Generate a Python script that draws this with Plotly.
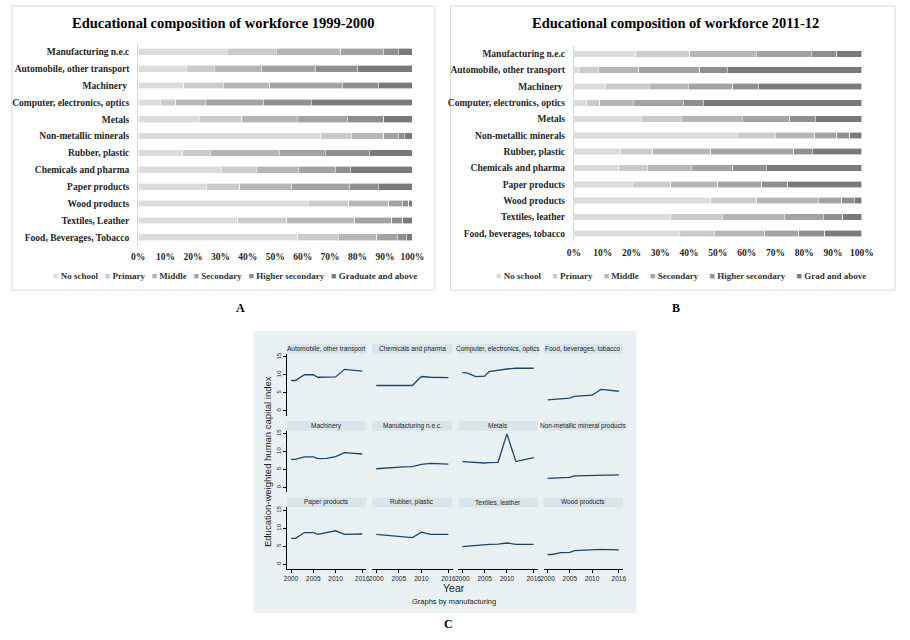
import plotly.graph_objects as go

W, H = 910, 640

# ---------------- Data: panels A and B ----------------
categories_a = ["Manufacturing n.e.c", "Automobile, other transport", "Machinery\u00a0",
                "Computer, electronics, optics", "Metals", "Non-metallic minerals",
                "Rubber, plastic", "Chemicals and pharma", "Paper products",
                "Wood products", "Textiles, Leather", "Food, Beverages, Tobacco"]
categories_b = ["Manufacturing n.e.c", "Automobile, other transport", "Machinery\u00a0",
                "Computer, electronics, optics", "Metals", "Non-metallic minerals",
                "Rubber, plastic", "Chemicals and pharma", "Paper products",
                "Wood products", "Textiles, leather", "Food, beverages, tobacco"]

levels_a = ["No school", "Primary", "Middle", "Secondary", "Higher secondary", "Graduate and above"]
levels_b = ["No school", "Primary", "Middle", "Secondary", "Higher secondary", "Grad and above"]

# shares (%) 1999-2000
a_noschool  = [32.4, 17.6, 16.6, 8.0, 22.3, 66.5, 16.3, 30.3, 24.9, 62.0, 36.4, 58.2]
a_primary   = [17.9, 10.1, 14.4, 5.7, 15.5, 11.3, 10.0, 12.8, 12.1, 14.8, 17.8, 14.7]
a_middle    = [23.5, 17.1, 17.0, 10.7, 20.2, 11.8, 25.1, 15.3, 18.9, 14.6, 24.7, 14.1]
a_secondary = [15.6, 19.7, 26.4, 21.2, 18.3, 5.2, 16.8, 13.4, 21.1, 5.0, 13.5, 7.4]
a_highersec = [5.4, 15.4, 13.1, 17.5, 13.3, 2.3, 16.1, 5.6, 10.5, 2.2, 4.1, 3.3]
a_graduate  = [5.2, 20.1, 12.5, 36.9, 10.4, 2.9, 15.7, 22.6, 12.5, 1.4, 3.5, 2.3]

# shares (%) 2011-12
b_noschool  = [21.5, 1.9, 10.8, 4.5, 23.4, 56.7, 16.2, 15.5, 20.3, 47.6, 33.4, 36.6]
b_primary   = [18.7, 6.5, 15.3, 4.5, 13.9, 13.3, 11.2, 9.9, 13.3, 15.9, 18.2, 12.2]
b_middle    = [23.2, 14.2, 13.6, 11.6, 21.1, 13.6, 20.1, 15.3, 16.3, 21.4, 21.4, 17.5]
b_secondary = [19.0, 21.1, 15.5, 17.3, 16.5, 7.7, 28.9, 14.5, 15.3, 8.1, 13.6, 11.8]
b_highersec = [8.9, 9.5, 8.9, 7.1, 8.9, 4.5, 6.4, 11.7, 9.1, 4.4, 6.8, 9.1]
b_graduate  = [8.7, 46.8, 35.9, 55.0, 16.2, 4.2, 17.2, 33.1, 25.7, 2.6, 6.6, 12.8]

pct_ticks = [0, 10, 20, 30, 40, 50, 60, 70, 80, 90, 100]
pct_labels = ["0%", "10%", "20%", "30%", "40%", "50%", "60%", "70%", "80%", "90%", "100%"]

# ---------------- Data: panel C ----------------
years = [2000, 2001, 2003, 2005, 2006, 2008, 2010, 2012, 2016]
industries_c = ["Automobile, other transport", "Chemicals and pharma", "Computer, electronics, optics",
                "Food, beverages, tobacco", "Machinery", "Manufacturing n.e.c.", "Metals",
                "Non-metallic mineral products", "Paper products", "Rubber, plastic",
                "Textiles, leather", "Wood products"]
hc_auto      = [8.4, 8.4, 10.0, 10.0, 9.3, 9.3, 9.4, 11.5, 11.0]
hc_chem      = [7.0, 7.0, 7.1, 7.2, 7.1, 7.0, 9.5, 9.3, 9.2]
hc_computer  = [10.6, 10.5, 9.5, 9.6, 10.9, 11.3, 11.6, 11.8, 11.8]
hc_food      = [3.0, 3.1, 3.4, 3.5, 4.0, 4.1, 4.3, 5.9, 5.4]
hc_machinery = [7.8, 7.8, 8.5, 8.5, 8.0, 8.1, 8.6, 9.7, 9.3]
hc_mfg_nec   = [5.2, 5.3, 5.6, 5.7, 5.7, 5.8, 6.4, 6.7, 6.5]
hc_metals    = [7.2, 7.1, 6.9, 6.8, 6.9, 7.0, 14.9, 7.2, 8.3]
hc_nonmetal  = [2.5, 2.6, 2.7, 2.8, 3.2, 3.3, 3.4, 3.5, 3.5]
hc_paper     = [7.2, 7.2, 8.8, 8.8, 8.3, 8.8, 9.3, 8.3, 8.4]
hc_rubber    = [8.3, 8.2, 7.9, 7.9, 7.6, 7.4, 8.9, 8.3, 8.3]
hc_textiles  = [4.9, 5.0, 5.4, 5.4, 5.5, 5.6, 5.9, 5.5, 5.5]
hc_wood      = [2.7, 2.7, 3.2, 3.3, 3.8, 3.9, 4.0, 4.1, 4.0]
year_ticks = [2000, 2005, 2010, 2016]
hc_ticks = [0, 5, 10, 15]

# ---------------- Styling ----------------
grays = ["#dcdcdc", "#cbcbcb", "#b6b6b6", "#a3a3a3", "#8f8f8f", "#7a7a7a"]
SERIF = "Liberation Serif"
SANS = "Liberation Sans"
NAVY = "#1a476f"
C_BG = "#eaf1f3"
C_STRIP = "#d9e5ea"
C_GRID = "#e6eef1"


def px(x):
    return x / W


def py(y):
    return 1 - y / H


def note(text, x, y, font, **kw):
    d = dict(text=text, xref="paper", yref="paper", x=px(x), y=py(y),
             xanchor="center", yanchor="middle", showarrow=False, font=font)
    d.update(kw)
    return d


fig = go.Figure()
layout = dict(width=W, height=H, margin=dict(l=0, r=0, t=0, b=0),
              paper_bgcolor="white", plot_bgcolor="white",
              barmode="stack", bargap=0.6, showlegend=False)
annotations = []
shapes = []

# ---------- Panels A and B ----------
panels = [
    dict(ax="", cats=categories_a, levels=levels_a,
         series=[a_noschool, a_primary, a_middle, a_secondary, a_highersec, a_graduate],
         xdom=(134, 414), ydom=(41.5, 244.5), box=(5, 4, 437, 289),
         title="Educational composition of workforce 1999-2000", tx=221,
         legx=233, gap=3, label="A", lx=238),
    dict(ax="2", cats=categories_b, levels=levels_b,
         series=[b_noschool, b_primary, b_middle, b_secondary, b_highersec, b_graduate],
         xdom=(579, 873), ydom=(43.8, 240.2), box=(453, 4, 907, 289),
         title="Educational composition of workforce 2011-12", tx=683,
         legx=688, gap=5, label="B", lx=683),
]

for p in panels:
    for lvl, vals, col in zip(p["levels"], p["series"], grays):
        fig.add_trace(go.Bar(y=p["cats"], x=vals, orientation="h", name=lvl,
                             marker=dict(color=col, line=dict(color="white", width=0.6)),
                             xaxis="x" + p["ax"], yaxis="y" + p["ax"], hoverinfo="x+y+name"))
    tickfont = dict(family=SERIF, size=9.5, color="#262626", weight="bold")
    layout["xaxis" + p["ax"]] = dict(domain=[px(p["xdom"][0]), px(p["xdom"][1])],
                                     range=[0, 100], tickmode="array", tickvals=pct_ticks,
                                     ticktext=pct_labels,
                                     showgrid=False, zeroline=False, showline=False,
                                     tickfont=tickfont, anchor="y" + p["ax"],
                                     ticklabelstandoff=4)
    layout["yaxis" + p["ax"]] = dict(domain=[py(p["ydom"][1]), py(p["ydom"][0])],
                                     type="category", categoryorder="array",
                                     categoryarray=p["cats"], autorange="reversed",
                                     showgrid=False, zeroline=False, showline=True,
                                     linecolor="#d9d9d9", linewidth=1,
                                     tickfont=tickfont, anchor="x" + p["ax"],
                                     ticklabelstandoff=6)
    bx0, by0, bx1, by1 = p["box"]
    shapes.append(dict(type="rect", xref="paper", yref="paper",
                       x0=px(bx0), x1=px(bx1), y0=py(by1), y1=py(by0),
                       line=dict(color="#d9d9d9", width=1), fillcolor="rgba(0,0,0,0)",
                       layer="below"))
    annotations.append(note(p["title"], p["tx"], 21,
                            dict(family=SERIF, size=14.5, color="black", weight="bold")))
    sep = "\u00a0" * p["gap"]
    leg = sep.join(
        f'<span style="color:{c}">■</span>\u00a0{l}'
        for c, l in zip(grays, p["levels"]))
    annotations.append(note(leg, p["legx"], 274.5,
                            dict(family=SERIF, size=9, color="#333333", weight="bold")))
    annotations.append(note(p["label"], p["lx"], 307,
                            dict(family=SERIF, size=12, color="black", weight="bold")))

# ---------- Panel C ----------
shapes.append(dict(type="rect", xref="paper", yref="paper",
                   x0=px(252), x1=px(643), y0=py(613), y1=py(330),
                   line=dict(width=0), fillcolor=C_BG, layer="below"))

series_c = [hc_auto, hc_chem, hc_computer, hc_food, hc_machinery, hc_mfg_nec,
            hc_metals, hc_nonmetal, hc_paper, hc_rubber, hc_textiles, hc_wood]
col_x = [(286, 367), (373, 455), (461, 542), (548, 629)]
row_y = [(353, 415), (430, 492), (507, 569)]
strip_h = 10

for i, (name, vals) in enumerate(zip(industries_c, series_c)):
    r, c = divmod(i, 4)
    k = str(i + 3)
    x0, x1 = col_x[c]
    y0, y1 = row_y[r]
    fig.add_trace(go.Scatter(x=years, y=vals, mode="lines", name=name,
                             line=dict(color=NAVY, width=1.3),
                             xaxis="x" + k, yaxis="y" + k))
    bottom = (r == 2)
    left = (c == 0)
    layout["xaxis" + k] = dict(domain=[px(x0), px(x1)], range=[1999.1, 2016.9],
                               tickmode="array", tickvals=year_ticks,
                               showgrid=False, zeroline=False,
                               showticklabels=bottom, showline=bottom, linecolor="black",
                               linewidth=1, ticks="outside" if bottom else "",
                               ticklen=3, tickcolor="black",
                               tickfont=dict(family=SANS, size=6.5, color="#222222"),
                               anchor="y" + k)
    layout["yaxis" + k] = dict(domain=[py(y1), py(y0)], range=[-1.4, 15.8],
                               tickmode="array", tickvals=hc_ticks,
                               showgrid=True, gridcolor=C_GRID,
                               gridwidth=1, zeroline=False,
                               showticklabels=left, showline=left, linecolor="black",
                               linewidth=1, ticks="outside" if left else "",
                               ticklen=3, tickcolor="black", tickangle=-90,
                               tickfont=dict(family=SANS, size=6, color="#222222"),
                               anchor="x" + k)
    shapes.append(dict(type="rect", xref="paper", yref="paper",
                       x0=px(x0), x1=px(x1), y0=py(y0), y1=py(y0 - strip_h),
                       line=dict(width=0), fillcolor=C_STRIP, layer="below"))
    annotations.append(note(name, (x0 + x1) / 2, y0 - strip_h / 2,
                            dict(family=SANS, size=6.5, color="#222222")))

annotations.append(note("Education-weighted human capital index", 266, 461,
                        dict(family=SANS, size=9.5, color="#222222"), textangle=-90))
annotations.append(note("Year", 457, 588, dict(family=SANS, size=10.5, color="#222222")))
annotations.append(note("Graphs by manufacturing", 457, 601,
                        dict(family=SANS, size=7.5, color="#222222")))
annotations.append(note("C", 451, 624, dict(family=SERIF, size=12, color="black", weight="bold")))

layout["annotations"] = annotations
layout["shapes"] = shapes
fig.update_layout(**layout)
fig.write_html("out.html", config={"displayModeBar": False},
               post_script="document.body.style.margin='0';document.body.style.overflow='hidden';")
